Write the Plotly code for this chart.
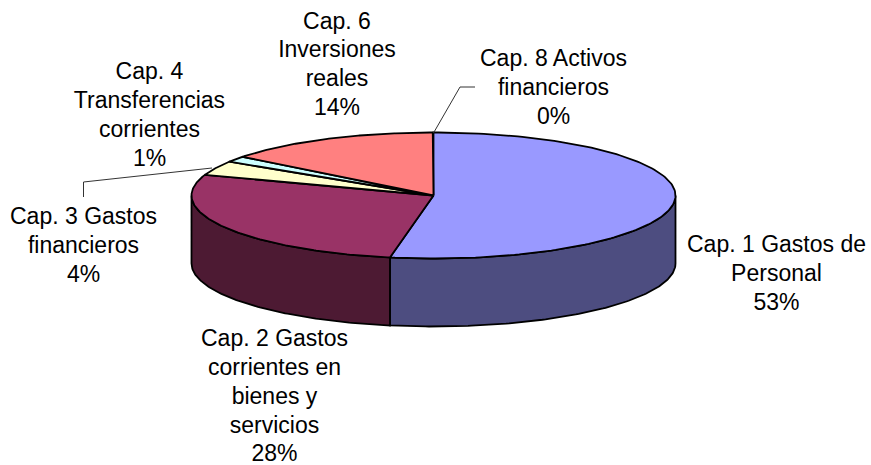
import numpy as np
import plotly.graph_objects as go

# Data
categories = ["Cap. 1 Gastos de Personal", "Cap. 2 Gastos corrientes en bienes y servicios",
              "Cap. 3 Gastos financieros", "Cap. 4 Transferencias corrientes",
              "Cap. 8 Activos financieros", "Cap. 6 Inversiones reales"]
values = [52.8, 27.4, 3.7, 1.5, 0.05, 14.4]
percent_labels = ["53%", "28%", "4%", "1%", "0%", "14%"]
# order drawn clockwise from 12 o'clock: 1, 2, 3, 4, 6, 8
draw_order = [0, 1, 2, 3, 5, 4]

top_colors = ["#9999FF", "#993366", "#FFFFCC", "#CCFFFF", "#FFFFFF", "#FF8080"]
side_colors = ["#4D4D80", "#4D1A33", "#808066", "#668080", "#808080", "#804040"]

label_lines = [
    ["Cap. 1 Gastos de", "Personal"],
    ["Cap. 2 Gastos", "corrientes en", "bienes y", "servicios"],
    ["Cap. 3 Gastos", "financieros"],
    ["Cap. 4", "Transferencias", "corrientes"],
    ["Cap. 8 Activos", "financieros"],
    ["Cap. 6", "Inversiones", "reales"],
]
# Layout: label centre x and each line's y (pixels)
label_x = [776.5, 274.5, 83.5, 149.5, 553.5, 337]
label_y = [[246, 275, 304], [340, 369, 398, 427, 455], [218, 247, 276],
           [73, 102, 131, 160], [60, 89, 118], [23, 51, 80, 109]]

CX, CY, RX, RY, DEPTH = 433.5, 195.5, 242, 63, 68
W, H = 871, 465
OUTLINE = dict(color="black", width=1.8)


def ell(a):
    a = np.radians(a)
    return CX + RX * np.sin(a), CY - RY * np.cos(a)


fig = go.Figure()


def poly(xs, ys, color):
    fig.add_trace(go.Scatter(x=list(xs), y=list(ys), mode="lines", fill="toself", fillcolor=color,
                             line=OUTLINE, hoverinfo="skip", showlegend=False))


total = sum(values)
start = 0.0
spans = []
for i in draw_order:
    sweep = values[i] / total * 360
    spans.append((i, start, start + sweep))
    start += sweep

# Outer walls: only the front half of the rim (90..270 degrees) shows
for i, a0, a1 in spans:
    lo, hi = max(a0, 90), min(a1, 270)
    if hi <= lo:
        continue
    t = np.linspace(lo, hi, 120)
    x, y = ell(t)
    poly(np.r_[x, x[::-1], x[0]], np.r_[y, y[::-1] + DEPTH, y[0]], side_colors[i])

# Top faces
for i, a0, a1 in spans:
    if values[i] < 0.5:
        continue
    t = np.linspace(a0, a1, 160)
    x, y = ell(t)
    poly(np.r_[CX, x, CX], np.r_[CY, y, CY], top_colors[i])

# Leader lines
for lx, ly in [([433.5, 460, 475], [133, 87, 87]), ([212, 83.5, 83.5], [168, 182, 197])]:
    fig.add_trace(go.Scatter(x=lx, y=ly, mode="lines", line=dict(color="#333333", width=1),
                             hoverinfo="skip", showlegend=False))

# Labels, one text per line so that the line spacing matches
text_x, text_y, text_s = [], [], []
for lines, pct, xc, ys in zip(label_lines, percent_labels, label_x, label_y):
    for txt, yy in zip(lines + [pct], ys):
        text_x.append(xc)
        text_y.append(yy)
        text_s.append(txt)
fig.add_trace(go.Scatter(x=text_x, y=text_y, text=text_s, mode="text", textposition="middle center",
                         textfont=dict(family="Liberation Sans", size=23, color="black"),
                         cliponaxis=False, hoverinfo="skip", showlegend=False))

fig.update_layout(
    width=W, height=H, margin=dict(l=0, r=0, t=0, b=0), autosize=False,
    paper_bgcolor="white", plot_bgcolor="white", showlegend=False,
    xaxis=dict(range=[0, W], visible=False, fixedrange=True),
    yaxis=dict(range=[H, 0], visible=False, fixedrange=True),
)
fig.write_html("out.html", config={"displayModeBar": False, "responsive": False},
               post_script="document.body.style.margin='0';document.documentElement.style.overflow='hidden';")
